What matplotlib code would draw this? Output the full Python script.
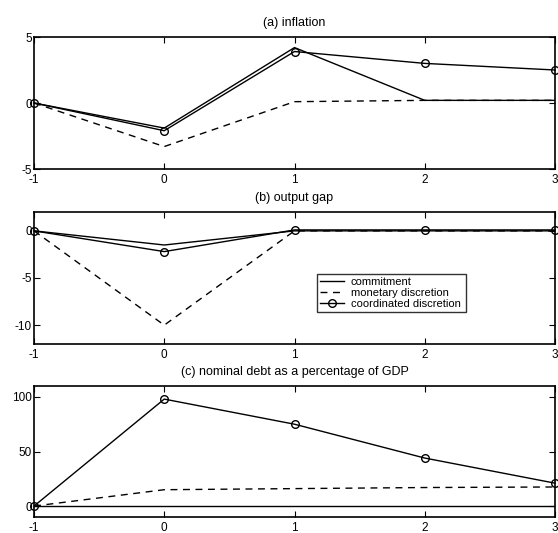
import matplotlib
matplotlib.use("Agg")
import matplotlib.pyplot as plt

plt.rcParams['font.family'] = ['Liberation Sans', 'DejaVu Sans']

periods = [-1, 0, 1, 2, 3]
xtick_labels = ['-1', '0', '1', '2', '3']

# (a) inflation
infl_commit = [0, -1.9, 4.2, 0.2, 0.2]
infl_monetary = [0, -3.3, 0.1, 0.2, 0.2]
infl_coord = [0, -2.1, 3.9, 3.0, 2.5]

# (b) output gap
gap_commit = [0, -1.5, 0, 0, 0]
gap_monetary = [0, -10.0, 0, 0, 0]
gap_coord = [0, -2.2, 0.1, 0.1, 0.1]

# (c) nominal debt as a percentage of GDP
debt_commit = [0, 0, 0, 0, 0]
debt_monetary = [0, 15, 16, 17, 17.5]
debt_coord = [0, 98, 75, 44, 21]

titles = ['(a) inflation', '(b) output gap', '(c) nominal debt as a percentage of GDP']
ylims = [(-5, 5), (-12, 2), (-10, 110)]
yticks = [[-5, 0, 5], [-10, -5, 0], [0, 50, 100]]
legend_labels = ['commitment', 'monetary discretion', 'coordinated discretion']

series = [
    (infl_commit, infl_monetary, infl_coord),
    (gap_commit, gap_monetary, gap_coord),
    (debt_commit, debt_monetary, debt_coord),
]

W, H = 558, 533
fig = plt.figure(figsize=(W / 100, H / 100), dpi=100)

# axes boxes in pixels: (left, top, right, bottom)
boxes = [(34, 37, 555, 169), (34, 212, 555, 344), (34, 386, 555, 517)]

fs_tick = 8.5
fs_title = 9
fs_leg = 8
for i, (box, (c, m, d)) in enumerate(zip(boxes, series)):
    l, t, r, b = box
    ax = fig.add_axes([l / W, 1 - b / H, (r - l) / W, (b - t) / H])
    ax.plot(periods, c, color='black', lw=1.0, label=legend_labels[0])
    ax.plot(periods, m, color='black', lw=1.0, linestyle=(0, (5, 4)), label=legend_labels[1])
    ax.plot(periods, d, color='black', lw=1.0, marker='o', markersize=5.5,
            markerfacecolor='none', markeredgewidth=1.0, label=legend_labels[2], clip_on=False)
    ax.set_xlim(-1, 3)
    ax.set_ylim(*ylims[i])
    ax.set_xticks(periods)
    ax.set_xticklabels(xtick_labels)
    ax.set_yticks(yticks[i])
    ax.set_yticklabels([str(v) for v in yticks[i]])
    ax.tick_params(direction='in', length=4, width=0.8, top=True, right=True,
                   labelsize=fs_tick, pad=1.5)
    ax.tick_params(axis='x', pad=3.5)
    for s in ax.spines.values():
        s.set_linewidth(1.2)
    ax.set_title(titles[i], fontsize=fs_title, pad=8)
    if i == 1:
        leg = ax.legend(loc='lower left', bbox_to_anchor=(0.543, 0.242, 0.286, 0.425),
                        mode='expand', fontsize=fs_leg, frameon=True, fancybox=False,
                        edgecolor='black', handlelength=2.2, handletextpad=0.6,
                        borderpad=0.25, labelspacing=0.1, borderaxespad=0)
        leg.get_frame().set_linewidth(1.0)

fig.savefig('out.png', dpi=100)
